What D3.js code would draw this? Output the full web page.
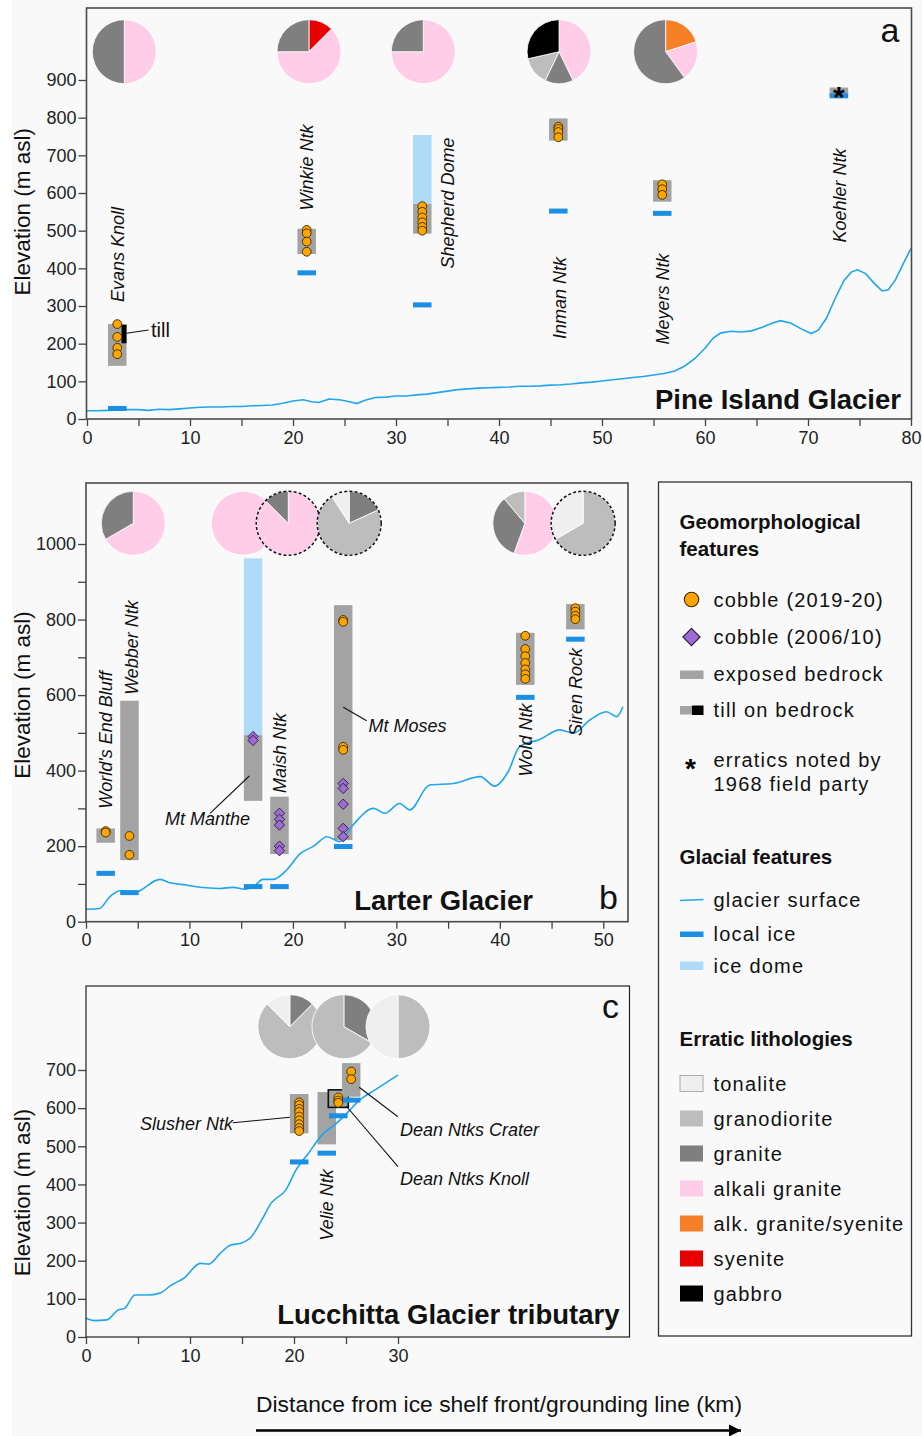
<!DOCTYPE html>
<html>
<head>
<meta charset="utf-8">
<script src="https://cdn.jsdelivr.net/npm/d3@7"></script>
<style>
  body { margin: 0; background: #fff; }
  svg { display: block; font-family: "Liberation Sans", Arial, sans-serif; }
</style>
</head>
<body>
<script>
// ---------- lithology classes ----------
const lithologies = ["tonalite", "granodiorite", "granite", "alkali granite", "alk. granite/syenite", "syenite", "gabbro"];
const lithColors  = ["#efefef", "#bdbdbd", "#7f7f7f", "#ffcde8", "#f58025", "#e60000", "#000000"];

// ---------- (a) Pine Island Glacier ----------
const pineSurface = [[0,22],[1,22],[2,23],[3,24],[4,25],[5,25],[6,23],[7,26],[8,25],[9,27],[10,29],[11,31],[12,32],[13,32],[14,33],[15,33],[16,35],[17,36],[18,37],[19,42],[20,48],[21,51],[21.8,46],[22.5,44],[23.5,53],[24.5,51],[25.5,46],[26.2,41],[27,50],[28,57],[29,58],[30,61],[31,61],[32,64],[33,66],[34,70],[35,74],[36,78],[37,80],[38,82],[39,83],[40,84],[41,85],[42,87],[43,87],[44,88],[45,90],[46,91],[47,93],[48,96],[49,98],[50,101],[51,104],[52,107],[53,110],[54,113],[55,117],[56,121],[57,127],[58,140],[59,160],[60,188],[60.8,215],[61.5,228],[62.5,233],[63.5,231],[64.5,234],[65.5,243],[66.5,254],[67.3,261],[68.3,255],[69.3,240],[70.3,227],[71,236],[71.8,268],[72.6,318],[73.5,368],[74.2,390],[74.8,396],[75.6,386],[76.5,358],[77.2,340],[77.8,343],[78.5,370],[79.3,415],[80,453]];
const pineSites    = ["Evans Knoll", "Winkie Ntk", "Shepherd Dome", "Inman Ntk", "Meyers Ntk", "Koehler Ntk"];
const pineKm       = [2.94, 21.33, 32.55, 45.76, 55.85, 73.0];
const pineBedrock  = [[141,252],[438,505],[492,571],[739,798],[577,634],[857,880]];
const pineLocalIce = [28, 388, 303, 552, 546, 858];
const pineIceDome  = [null, null, [571,754], null, null, null];
const pineCobbles  = [[252,218,189,172],[502,493,471,444],[565,550,535,522,510,500],[776,770,762,748],[623,610,595],[]];
const pineDiamonds = [[],[],[],[],[],[]];
const pineTill     = [[201,250], null, null, null, null, null];
const pineErratics1968 = [false, false, false, false, false, true];
const pinePieKm = [3.62, 21.55, 32.65, 45.83, 56.18];
const pinePies = [
  [["alkali granite",1],["granite",1]],
  [["syenite",1],["alkali granite",5],["granite",2]],
  [["alkali granite",3],["granite",1]],
  [["alkali granite",3],["granite",1],["granodiorite",1],["gabbro",2]],
  [["alk. granite/syenite",1],["alkali granite",1],["granite",3]]
];
const pineXTicks = [0,5,10,15,20,25,30,35,40,45,50,55,60,65,70,75,80];
const pineYTicks = [0,100,200,300,400,500,600,700,800,900];

// ---------- (b) Larter Glacier ----------
const larterSurface = [[0,33],[1.3,35],[2.3,66],[3.3,82],[4.6,75],[5.2,82],[7.15,112],[8.1,103],[9.7,97],[11,91],[12.9,88],[14.2,91],[15.4,86],[16.2,93],[17.1,112],[18.1,112],[19.4,137],[20.7,180],[22,200],[23.3,225],[24.5,212],[25.8,256],[27.8,300],[28.9,287],[30.3,313],[31.3,296],[33.2,362],[35.5,366],[38.1,384],[39.5,359],[40.8,397],[41.9,463],[43.9,483],[45.8,508],[47.1,499],[48.7,534],[50.3,556],[51.3,543],[51.9,569]];
const larterSites    = ["World's End Bluff", "Webber Ntk", "Mt Manthe", "Maish Ntk", "Mt Moses", "Wold Ntk", "Siren Rock"];
const larterKm       = [1.9, 4.2, 16.15, 18.7, 24.86, 42.46, 47.3];
const larterBedrock  = [[209,247],[163,585],[320,494],[179,331],[216,838],[627,765],[774,841]];
const larterLocalIce = [128, 77, 93, 93, 199, 594, 748];
const larterIceDome  = [null, null, [494,962], null, null, null, null];
const larterCobbles  = [[240,236],[227,177],[],[],[799,794,463,455],[757,722,703,685,668,655,643],[830,821,810,801]];
const larterDiamonds = [[],[],[490,480],[287,271,256,200,188],[366,353,311,247,225],[],[]];
const larterPieKm = [4.57, 15.2, 19.55, 25.44, 42.42, 48.05];
const larterPies = [
  [["alkali granite",2],["granite",1]],
  [["alkali granite",1]],
  [["alkali granite",7],["granite",1]],
  [["granite",2],["granodiorite",8],["tonalite",1]],
  [["alkali granite",5],["granite",3],["granodiorite",1]],
  [["granodiorite",2],["tonalite",1]]
];
const larterPieDashed = [false, false, true, true, false, true];
const larterXTicks = [0,5,10,15,20,25,30,35,40,45,50];
const larterYTicks = [0,100,200,300,400,500,600,700,800,900,1000];

// ---------- (c) Lucchitta Glacier tributary ----------
const lucSurface = [[0,49],[0.8,43],[2,45],[3.1,71],[3.7,75],[4.7,110],[5.9,110],[7.1,115],[8.2,136],[9.4,154],[11,193],[11.8,191],[12.9,219],[13.9,241],[14.9,246],[15.9,263],[16.9,307],[17.8,351],[19.2,385],[20.2,438],[21.4,482],[22.7,530],[23.9,556],[25.1,587],[26.3,621],[27.8,648],[30,687]];
const lucSites    = ["Slusher Ntk", "Velie Ntk", "Dean Ntks Knoll", "Dean Ntks Crater"];
const lucKm       = [20.5, 23.15, 24.26, 25.5];
const lucBedrock  = [[534,637],[505,642],[602,648],[630,718]];
const lucLocalIce = [459, 482, 580, 621];
const lucCobbles  = [[615,608,598,590,578,568,558,548,540],[],[628,620,614],[696,676]];
const lucBoxed    = [false, false, true, false];
const lucPieKm = [19.6, 24.8, 30.0];
const lucPies = [
  [["granite",1],["granodiorite",6],["tonalite",1]],
  [["granite",1],["granodiorite",2]],
  [["granodiorite",1],["tonalite",1]]
];
const lucXTicks = [0,5,10,15,20,25,30];
const lucYTicks = [0,100,200,300,400,500,600,700];

// ---------- styles ----------
const BEDROCK = "#a3a3a3", ICE_DOME = "#aedcf8", LOCAL_ICE = "#1a8fe3", SURFACE = "#1fa6ec";
const COBBLE = "#ffa500", DIAMOND = "#9e6bd6", INK = "#1a1a1a";
const BAR_W = 18.5, ICE_H = 5, PIE_R = 32;

const W = 922, H = 1436;
const svg = d3.select("body").append("svg").attr("width", W).attr("height", H);
svg.append("rect").attr("width", W).attr("height", H).attr("fill", "#fff");
svg.append("rect").attr("x", 12).attr("width", W - 12).attr("height", H).attr("fill", "#f9f9f9");

const lithColor = d3.scaleOrdinal(lithologies, lithColors);
const pieGen = d3.pie().sort(null).value(d => d[1]);
const arcGen = d3.arc().innerRadius(0).outerRadius(PIE_R);

function diamondPath(cx, cy, r) {
  return `M${cx},${cy - r}L${cx + r},${cy}L${cx},${cy + r}L${cx - r},${cy}Z`;
}

function drawPanel(p) {
  const g = svg.append("g");
  const x = d3.scaleLinear().domain(p.xDom).range(p.xRng);
  const y = d3.scaleLinear().domain(p.yDom).range(p.yRng);
  const f = p.frame;

  // ice domes
  p.km.forEach((k, i) => {
    const d = p.dome && p.dome[i];
    if (!d) return;
    g.append("rect").attr("x", x(k) - BAR_W / 2).attr("width", BAR_W)
      .attr("y", y(d[1])).attr("height", y(d[0]) - y(d[1])).attr("fill", ICE_DOME);
  });
  // exposed bedrock
  p.km.forEach((k, i) => {
    const b = p.rock[i];
    const boxed = p.boxed && p.boxed[i];
    const w = boxed ? BAR_W + 1.5 : BAR_W;
    g.append("rect").attr("x", x(k) - w / 2).attr("width", w)
      .attr("y", y(b[1])).attr("height", y(b[0]) - y(b[1]))
      .attr("fill", BEDROCK)
      .attr("stroke", boxed ? "#111" : "none").attr("stroke-width", boxed ? 1.6 : 0);
  });
  // till on bedrock
  if (p.till) p.km.forEach((k, i) => {
    const t = p.till[i];
    if (!t) return;
    g.append("rect").attr("x", x(k) + BAR_W / 2 - 5).attr("width", 5)
      .attr("y", y(t[1])).attr("height", y(t[0]) - y(t[1])).attr("fill", "#000");
  });
  // glacier surface
  g.append("path").datum(p.surface)
    .attr("d", d3.line().x(d => x(d[0])).y(d => y(d[1])).curve(p.curve))
    .attr("fill", "none").attr("stroke", SURFACE).attr("stroke-width", 1.6);
  // local ice
  p.km.forEach((k, i) => {
    g.append("rect").attr("x", x(k) - BAR_W / 2).attr("width", BAR_W)
      .attr("y", y(p.ice[i]) - ICE_H / 2).attr("height", ICE_H).attr("fill", LOCAL_ICE);
  });
  // cobbles
  p.km.forEach((k, i) => {
    (p.cobbles[i] || []).forEach(v => {
      g.append("circle").attr("cx", x(k)).attr("cy", y(v)).attr("r", 4.4)
        .attr("fill", COBBLE).attr("stroke", "#3a2a00").attr("stroke-width", 0.9);
    });
    ((p.diamonds && p.diamonds[i]) || []).forEach(v => {
      g.append("path").attr("d", diamondPath(x(k), y(v), 5.2))
        .attr("fill", DIAMOND).attr("stroke", "#2a1a3a").attr("stroke-width", 0.9);
    });
  });
  // erratics noted in 1968
  if (p.star) p.km.forEach((k, i) => {
    if (!p.star[i]) return;
    g.append("text").attr("x", x(k)).attr("y", y(p.rock[i][1]) + 19)
      .attr("text-anchor", "middle").attr("font-size", 30).attr("font-weight", "bold")
      .attr("fill", "#000").text("*");
  });
  // pies
  p.pies.forEach((pie, i) => {
    const pg = g.append("g").attr("transform", `translate(${x(p.pieKm[i])},${p.pieY})`);
    pg.selectAll("path").data(pieGen(pie)).join("path")
      .attr("d", arcGen).attr("fill", d => lithColor(d.data[0]))
      .attr("stroke", "#fff").attr("stroke-width", 0.8);
    if (p.pieDashed && p.pieDashed[i]) {
      pg.append("circle").attr("r", PIE_R).attr("fill", "none")
        .attr("stroke", "#111").attr("stroke-width", 1.5).attr("stroke-dasharray", "3,2.2");
    }
  });
  // axes
  const xAxis = d3.axisBottom(x).tickValues(p.xTicks).tickSize(7).tickPadding(5)
    .tickFormat(d => d % 10 === 0 ? d : "");
  const yAxis = d3.axisLeft(y).tickValues(p.yTicks).tickSize(8).tickPadding(2)
    .tickFormat(d => d % p.yLabelStep === 0 ? d : "");
  [g.append("g").attr("transform", `translate(0,${f.y1})`).call(xAxis),
   g.append("g").attr("transform", `translate(${f.x0},0)`).call(yAxis)].forEach(a => {
    a.select(".domain").remove();
    a.selectAll(".tick line").attr("stroke", "#444").attr("stroke-width", 1.3);
    a.selectAll(".tick text").attr("font-size", 18).attr("fill", "#222")
      .attr("font-family", "Liberation Sans, Arial, sans-serif");
  });
  // frame
  g.append("rect").attr("x", f.x0).attr("y", f.y0).attr("width", f.x1 - f.x0).attr("height", f.y1 - f.y0)
    .attr("fill", "none").attr("stroke", f.stroke).attr("stroke-width", f.sw);
  // axis title
  g.append("text").attr("transform", `translate(${30},${p.yTitleY}) rotate(-90)`)
    .attr("text-anchor", "middle").attr("font-size", 22.5).attr("fill", "#111").text("Elevation (m asl)");
  // title and panel letter
  g.append("text").attr("x", p.title.x).attr("y", p.title.y).attr("text-anchor", "end")
    .attr("font-size", 27.5).attr("font-weight", "bold").attr("fill", "#111").text(p.title.text);
  g.append("text").attr("x", p.letter.x).attr("y", p.letter.y).attr("text-anchor", "middle")
    .attr("font-size", 34).attr("fill", "#111").text(p.letter.text);
  // rotated site names
  (p.vLabels || []).forEach(l => {
    g.append("text").attr("transform", `translate(${l[1] + 6.3},${l[2]}) rotate(-90)`)
      .attr("text-anchor", "middle").attr("font-size", 18).attr("font-style", "italic")
      .attr("fill", "#111").text(l[0]);
  });
  // horizontal site names with leader lines
  (p.hLabels || []).forEach(l => {
    g.append("text").attr("x", l[1]).attr("y", l[2]).attr("text-anchor", l[3])
      .attr("font-size", 18).attr("font-style", "italic").attr("fill", "#111").text(l[0]);
  });
  (p.leaders || []).forEach(s => {
    g.append("line").attr("x1", s[0]).attr("y1", s[1]).attr("x2", s[2]).attr("y2", s[3])
      .attr("stroke", "#111").attr("stroke-width", 1.1);
  });
  return { x, y, g };
}

// ---------- panel a ----------
const pa = drawPanel({
  xDom: [0, 80], xRng: [87, 911], yDom: [0, 900], yRng: [419, 80],
  frame: { x0: 86.5, x1: 911.5, y0: 8, y1: 419, stroke: "#4a4a4a", sw: 1.6 },
  surface: pineSurface, curve: d3.curveLinear,
  km: pineKm, rock: pineBedrock, ice: pineLocalIce, dome: pineIceDome,
  cobbles: pineCobbles, diamonds: pineDiamonds, till: pineTill, star: pineErratics1968,
  pies: pinePies, pieKm: pinePieKm, pieY: 51.7,
  xTicks: pineXTicks, yTicks: pineYTicks, yLabelStep: 100, yTitleY: 211.7,
  title: { text: "Pine Island Glacier", x: 901, y: 408.5 },
  letter: { text: "a", x: 890, y: 41.5 },
  vLabels: [["Evans Knoll",118,254.5],["Winkie Ntk",307,167.5],["Shepherd Dome",448,203],
            ["Inman Ntk",560,298],["Meyers Ntk",663,299],["Koehler Ntk",840,195.5]],
  leaders: [[126.5, 333.3, 148.5, 330]]
});
pa.g.append("text").attr("x", 151).attr("y", 337).attr("font-size", 20).attr("fill", "#111").text("till");

// ---------- panel b ----------
drawPanel({
  xDom: [0, 50], xRng: [86, 603.3], yDom: [0, 1000], yRng: [921.7, 544],
  frame: { x0: 86, x1: 628, y0: 483, y1: 921.7, stroke: "#4a4a4a", sw: 1.6 },
  surface: larterSurface, curve: d3.curveMonotoneX,
  km: larterKm, rock: larterBedrock, ice: larterLocalIce, dome: larterIceDome,
  cobbles: larterCobbles, diamonds: larterDiamonds,
  pies: larterPies, pieKm: larterPieKm, pieY: 523.3, pieDashed: larterPieDashed,
  xTicks: larterXTicks, yTicks: larterYTicks, yLabelStep: 200, yTitleY: 695,
  title: { text: "Larter Glacier", x: 533, y: 910 },
  letter: { text: "b", x: 608.5, y: 908.5 },
  vLabels: [["World's End Bluff",106,740],["Webber Ntk",131.7,647.5],["Maish Ntk",279.3,753],
            ["Wold Ntk",526,740],["Siren Rock",576,692]],
  hLabels: [["Mt Manthe",165,824.5,"start"],["Mt Moses",368.5,731.5,"start"]],
  leaders: [[210, 813.3, 249.3, 776], [343.3, 707.3, 366.7, 720.7]]
});

// ---------- panel c ----------
drawPanel({
  xDom: [0, 30], xRng: [86, 398], yDom: [0, 700], yRng: [1337, 1070],
  frame: { x0: 86, x1: 629.5, y0: 986, y1: 1337, stroke: "#222", sw: 1.2 },
  surface: lucSurface, curve: d3.curveMonotoneX,
  km: lucKm, rock: lucBedrock, ice: lucLocalIce, boxed: lucBoxed,
  cobbles: lucCobbles,
  pies: lucPies, pieKm: lucPieKm, pieY: 1026.7,
  xTicks: lucXTicks, yTicks: lucYTicks, yLabelStep: 100, yTitleY: 1192.5,
  title: { text: "Lucchitta Glacier tributary", x: 619.5, y: 1323.5 },
  letter: { text: "c", x: 610.5, y: 1018.3 },
  vLabels: [["Velie Ntk",326.6,1205]],
  hLabels: [["Slusher Ntk",140,1129.5,"start"],["Dean Ntks Crater",400,1135.5,"start"],["Dean Ntks Knoll",400,1184.5,"start"]],
  leaders: [[232.8, 1122.7, 290, 1117.3], [359.2, 1087.3, 397.9, 1116.7], [346.2, 1106, 398, 1166.7]]
});

// ---------- legend ----------
const lg = svg.append("g");
lg.append("rect").attr("x", 658.5).attr("y", 482).attr("width", 253).attr("height", 854)
  .attr("fill", "none").attr("stroke", "#333").attr("stroke-width", 1.3);
const LX = 679.5, TX = 713.5, SX = 691.5;
const head = (t, yb) => lg.append("text").attr("x", LX).attr("y", yb).attr("font-size", 20.5)
  .attr("font-weight", "bold").attr("fill", "#111").text(t);
const item = (t, yb) => lg.append("text").attr("x", TX).attr("y", yb).attr("font-size", 20)
  .attr("letter-spacing", 1.2).attr("fill", "#111").text(t);

head("Geomorphological", 529); head("features", 555.5);
lg.append("circle").attr("cx", SX).attr("cy", 599.5).attr("r", 7.2)
  .attr("fill", COBBLE).attr("stroke", "#3a2a00").attr("stroke-width", 1.1);
item("cobble (2019-20)", 606.5);
lg.append("path").attr("d", diamondPath(SX, 637, 8.6))
  .attr("fill", DIAMOND).attr("stroke", "#2a1a3a").attr("stroke-width", 1.1);
item("cobble (2006/10)", 644);
lg.append("rect").attr("x", 680).attr("y", 670.5).attr("width", 23.5).attr("height", 8.5).attr("fill", BEDROCK);
item("exposed bedrock", 680.5);
lg.append("rect").attr("x", 680).attr("y", 706).attr("width", 12).attr("height", 8.5).attr("fill", BEDROCK);
lg.append("rect").attr("x", 692).attr("y", 705.5).attr("width", 11.5).attr("height", 9.5).attr("fill", "#000");
item("till on bedrock", 717);
lg.append("text").attr("x", SX - 1).attr("y", 778).attr("text-anchor", "middle").attr("font-size", 28)
  .attr("font-weight", "bold").attr("fill", "#000").text("*");
item("erratics noted by", 766.5); item("1968 field party", 791);

head("Glacial features", 863.5);
lg.append("line").attr("x1", 680).attr("x2", 703.5).attr("y1", 900.5).attr("y2", 899.5)
  .attr("stroke", SURFACE).attr("stroke-width", 1.6);
item("glacier surface", 907);
lg.append("rect").attr("x", 680).attr("y", 931.5).attr("width", 23.5).attr("height", 5.5).attr("fill", LOCAL_ICE);
item("local ice", 941);
lg.append("rect").attr("x", 680).attr("y", 961.5).attr("width", 23.5).attr("height", 8.5).attr("fill", ICE_DOME);
item("ice dome", 972.5);

head("Erratic lithologies", 1045.5);
lithologies.forEach((name, i) => {
  const cy = 1083.5 + i * 35;
  lg.append("rect").attr("x", 680).attr("y", cy - 8).attr("width", 23).attr("height", 16)
    .attr("fill", lithColor(name)).attr("stroke", i === 0 ? "#999" : "none").attr("stroke-width", 0.8);
  item(name, cy + 7);
});

// ---------- shared distance caption ----------
svg.append("text").attr("x", 256).attr("y", 1412).attr("font-size", 22.8).attr("fill", "#111")
  .attr("textLength", 486).text("Distance from ice shelf front/grounding line (km)");
svg.append("defs").append("marker").attr("id", "arrowhead").attr("viewBox", "0 0 10 10")
  .attr("refX", 10).attr("refY", 5).attr("markerWidth", 5).attr("markerHeight", 5)
  .attr("markerUnits", "strokeWidth").attr("orient", "auto")
  .append("path").attr("d", "M0,0L10,5L0,10Z").attr("fill", "#000");
svg.append("line").attr("x1", 256).attr("x2", 741).attr("y1", 1430.5).attr("y2", 1430.5)
  .attr("stroke", "#000").attr("stroke-width", 2.5).attr("marker-end", "url(#arrowhead)");
</script>
</body>
</html>
